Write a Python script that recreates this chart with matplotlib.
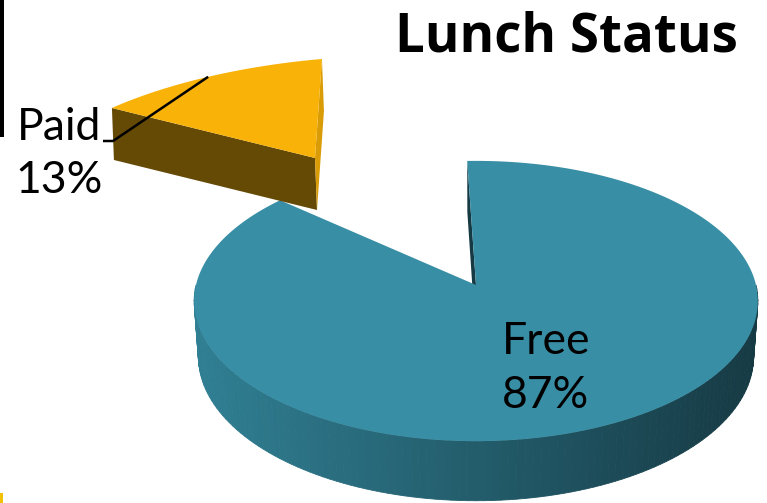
import numpy as np
import matplotlib.pyplot as plt
from matplotlib.patches import Polygon
from matplotlib.colors import LinearSegmentedColormap

plt.rcParams['font.family'] = ['Lato', 'DejaVu Sans']

# data
labels = ["Free", "Paid"]
values = [87, 13]
title = "Lunch Status"

# colours
free_top = "#388ea5"
free_cut = "#163a44"
side_cmap = LinearSegmentedColormap.from_list("side", ["#307f93", "#163a44"])
paid_top = "#f9b207"
paid_cut = "#654a06"
paid_edge = "#d99c06"

# view set-up (pixels of the 767x503 picture)
start = 92.0
EL = np.radians(29.6)
DIST = 7.61
SCALE = 280 * DIST
FREE_C = (476, 285)
THICK = 0.23
PAID_C = np.array([315.0, 158.0])
PAID_M = np.array([[284.7, 16.9], [-20.9, -99.8]])
PAID_D = np.array([2.0, 52.0])


def proj(theta, r=1.0, z=0.0):
    # perspective projection of a point of the free slice
    t = np.radians(theta)
    x, y = r * np.cos(t), r * np.sin(t)
    v = y * np.sin(EL) + z * np.cos(EL)
    w = DIST + y * np.cos(EL) - z * np.sin(EL)
    return np.column_stack([FREE_C[0] + SCALE * x / w, FREE_C[1] - SCALE * v / w])


def proj_paid(theta):
    t = np.radians(np.atleast_1d(theta))
    pts = np.column_stack([np.cos(t), np.sin(t)]) @ PAID_M.T
    return pts + PAID_C


fig = plt.figure(figsize=(7.67, 5.03), dpi=100)
ax = fig.add_axes([0, 0, 1, 1])
ax.set_xlim(0, 767)
ax.set_ylim(503, 0)
ax.axis("off")

# slice angles from values
total = sum(values)
paid_a0 = start
paid_a1 = start + 360 * values[1] / total
free_a0 = paid_a1
free_a1 = start + 360

# --- free slice ---
# outer side, shaded left to right
side_angles = np.linspace(max(free_a0, 180), min(free_a1, 360), 121)
top_pts = proj(side_angles)
bot_pts = proj(side_angles, z=-THICK)
xmin, xmax = top_pts[:, 0].min(), top_pts[:, 0].max()
for i in range(len(side_angles) - 1):
    quad = [top_pts[i], top_pts[i + 1], bot_pts[i + 1], bot_pts[i]]
    xm = (top_pts[i, 0] + top_pts[i + 1, 0]) / 2
    col = side_cmap((xm - xmin) / (xmax - xmin))
    ax.add_patch(Polygon(quad, closed=True, facecolor=col, edgecolor=col, lw=0.6))

# cut face at the end edge
c_top = proj([0], r=0)[0]
c_bot = proj([0], r=0, z=-THICK)[0]
e_top = proj([free_a1])[0]
e_bot = proj([free_a1], z=-THICK)[0]
ax.add_patch(Polygon([c_top, e_top, e_bot, c_bot], closed=True,
                     facecolor=free_cut, edgecolor="none"))

# top face
arc = proj(np.linspace(free_a0, free_a1, 300))
ax.add_patch(Polygon(np.vstack([c_top, arc]), closed=True,
                     facecolor=free_top, edgecolor="none"))

# --- paid slice (pulled out) ---
p_left = proj_paid(paid_a1)[0]
p_right = proj_paid(paid_a0)[0]
ax.add_patch(Polygon([PAID_C, p_left, p_left + PAID_D, PAID_C + PAID_D],
                     closed=True, facecolor=paid_cut, edgecolor="none"))
ax.add_patch(Polygon([PAID_C, p_right, p_right + PAID_D, PAID_C + PAID_D],
                     closed=True, facecolor=paid_edge, edgecolor="none"))
parc = proj_paid(np.linspace(paid_a0, paid_a1, 100))
ax.add_patch(Polygon(np.vstack([PAID_C, parc]), closed=True,
                     facecolor=paid_top, edgecolor="none"))

# --- labels ---
fs = 32
ax.text(546, 354, labels[0], fontsize=fs, ha="center", va="baseline")
ax.text(546, 408, f"{values[0]}%", fontsize=fs, ha="center", va="baseline")

ax.text(17, 140, labels[1], fontsize=fs, ha="left", va="baseline")
ax.text(15, 193, f"{values[1]}%", fontsize=fs, ha="left", va="baseline")
mid = proj_paid((paid_a0 + paid_a1) / 2)[0]
ax.plot([103, 113, mid[0]], [141, 141, mid[1]], color="black", lw=1.8,
        solid_capstyle="butt")

ax.text(738, 51, title, fontsize=38, fontweight="bold", ha="right",
        va="baseline", family=["Open Sans", "DejaVu Sans"])

# little marks at the picture's left edge
ax.add_patch(plt.Rectangle((0, 0), 3.5, 137, facecolor="black", edgecolor="none"))
ax.add_patch(plt.Rectangle((0, 493), 3, 10, facecolor="#f2c200", edgecolor="none"))

fig.savefig("out.png", dpi=100)
